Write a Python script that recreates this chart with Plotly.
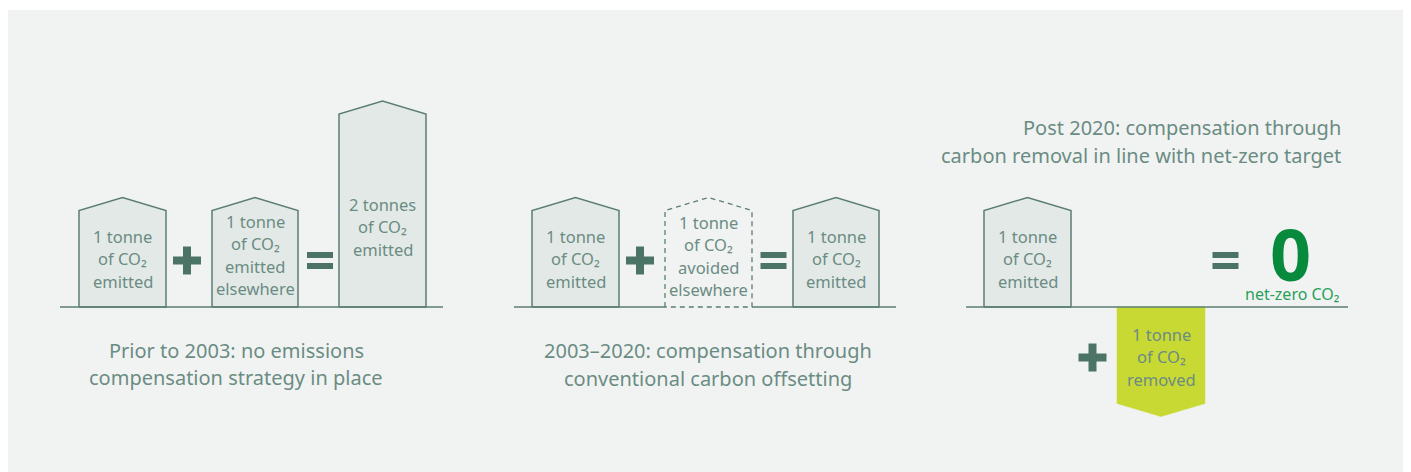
import plotly.graph_objects as go

# ---------------- data ----------------
box_tonnes = [1, 1, 2, 1, 1, 1, 1, -1]
box_kinds = ["emitted", "emitted", "emitted", "emitted", "avoided", "emitted", "emitted", "removed"]
box_labels = [
    ["1 tonne", "of CO₂", "emitted"],
    ["1 tonne", "of CO₂", "emitted", "elsewhere"],
    ["2 tonnes", "of CO₂", "emitted"],
    ["1 tonne", "of CO₂", "emitted"],
    ["1 tonne", "of CO₂", "avoided", "elsewhere"],
    ["1 tonne", "of CO₂", "emitted"],
    ["1 tonne", "of CO₂", "emitted"],
    ["1 tonne", "of CO₂", "removed"],
]
captions = [
    ["Prior to 2003: no emissions", "compensation strategy in place"],
    ["2003–2020: compensation through", "conventional carbon offsetting"],
    ["Post 2020: compensation through", "carbon removal in line with net-zero target"],
]
result_value = "0"
result_label = "net-zero CO₂"

# ---------------- layout (page pixels; page body has an 8px margin) ----------------
OFF = 8
W, H = 1411 - OFF, 472 - OFF
GROUND_PX = 307
UNIT_PX = 96.5          # pixels per tonne
ROOF = 0.135            # roof height in tonne units


def px(x):
    return x - OFF


def ty(py):
    return (GROUND_PX - py) / UNIT_PX


box_left = [79, 212, 339, 532, 665, 793, 984, 1117]
box_width = [87, 86, 87, 87, 87, 86, 87, 88]
box_text_top = [236, 221, 204, 236, 222, 236, 236, 334]
LINE_STEP = 22.5

ground_segments = [(60, 443), (514, 665), (752, 896), (966, 1348)]
plus_centers = [(187, 260.5), (640, 260.5), (1092.5, 357.5)]
equal_centers = [(320, 260.5), (773.5, 260.5), (1225.5, 260.5)]
caption_pos = [(236, 350, 377, "center"), (708, 350, 378, "center"), (1343, 127.5, 155.5, "right")]

PANEL = "#f1f3f2"
BOX_FILL = "#e3e9e7"
STROKE = "#5b7e74"
TEXT = "#6b8c83"
OP = "#4b7366"
GREEN0 = "#088a3c"
GREEN_TXT = "#2a9f5a"
LIME = "#c9d933"
FONT = "Noto Sans"

fig = go.Figure()

# boxes
for t, kind, l, w in zip(box_tonnes, box_kinds, box_left, box_width):
    s = 1 if t > 0 else -1
    xs = [px(l), px(l), px(l + w / 2), px(l + w), px(l + w), px(l)]
    ys = [0, t, t + s * ROOF, t, 0, 0]
    if kind == "emitted":
        fig.add_trace(go.Scatter(x=xs, y=ys, mode="lines", fill="toself", fillcolor=BOX_FILL,
                                 line=dict(color=STROKE, width=1.5), hoverinfo="skip"))
    elif kind == "avoided":
        fig.add_trace(go.Scatter(x=xs, y=ys, mode="lines",
                                 line=dict(color=STROKE, width=1.3, dash="5px,4px"), hoverinfo="skip"))
    else:
        fig.add_trace(go.Scatter(x=xs, y=ys, mode="lines", fill="toself", fillcolor=LIME,
                                 line=dict(color=LIME, width=0.5), hoverinfo="skip"))

# ground lines
for a, b in ground_segments:
    fig.add_trace(go.Scatter(x=[px(a), px(b)], y=[0, 0], mode="lines",
                             line=dict(color=STROKE, width=1.5), hoverinfo="skip"))

shapes = [dict(type="rect", xref="x", yref="y", x0=px(7), x1=px(1406), y0=ty(10), y1=ty(H + 20),
               fillcolor=PANEL, line=dict(width=0), layer="below")]

# plus signs
for cx, cy in plus_centers:
    arm, th = 14, 4
    shapes.append(dict(type="rect", xref="x", yref="y", x0=px(cx - arm), x1=px(cx + arm),
                       y0=ty(cy - th), y1=ty(cy + th), fillcolor=OP, line=dict(width=0)))
    shapes.append(dict(type="rect", xref="x", yref="y", x0=px(cx - th), x1=px(cx + th),
                       y0=ty(cy - arm), y1=ty(cy + arm), fillcolor=OP, line=dict(width=0)))
# equal signs
for cx, cy in equal_centers:
    hw = 13
    for a, b in [(cy - 8.5, cy - 2.5), (cy + 2.5, cy + 8.5)]:
        shapes.append(dict(type="rect", xref="x", yref="y", x0=px(cx - hw), x1=px(cx + hw),
                           y0=ty(a), y1=ty(b), fillcolor=OP, line=dict(width=0)))

annotations = []
for lines, l, w, top in zip(box_labels, box_left, box_width, box_text_top):
    for i, txt in enumerate(lines):
        annotations.append(dict(x=px(l + w / 2), y=ty(top + i * LINE_STEP), text=txt, showarrow=False,
                                xanchor="center", yanchor="middle",
                                font=dict(family=FONT, size=16.5, color=TEXT)))

for lines, (x, y1, y2, anc) in zip(captions, caption_pos):
    for txt, yy in zip(lines, (y1, y2)):
        annotations.append(dict(x=px(x), y=ty(yy), text=txt, showarrow=False, xanchor=anc,
                                yanchor="middle", font=dict(family=FONT, size=20, color=TEXT)))

annotations.append(dict(x=px(1290), y=ty(252.5), text=f"<b>{result_value}</b>", showarrow=False,
                        xanchor="center", yanchor="middle", height=60, valign="middle",
                        font=dict(family=FONT, size=72, color=GREEN0)))
annotations.append(dict(x=px(1292), y=ty(294), text=result_label, showarrow=False,
                        xanchor="center", yanchor="middle",
                        font=dict(family=FONT, size=16, color=GREEN_TXT)))

fig.update_layout(
    width=W, height=H,
    margin=dict(l=0, r=0, t=0, b=0),
    paper_bgcolor="white", plot_bgcolor="white",
    showlegend=False, hovermode=False,
    xaxis=dict(range=[0, W], visible=False, fixedrange=True),
    yaxis=dict(range=[ty(OFF + H), ty(OFF)], visible=False, fixedrange=True),
    shapes=shapes, annotations=annotations,
)

fig.write_html("out.html", config={"displayModeBar": False})
